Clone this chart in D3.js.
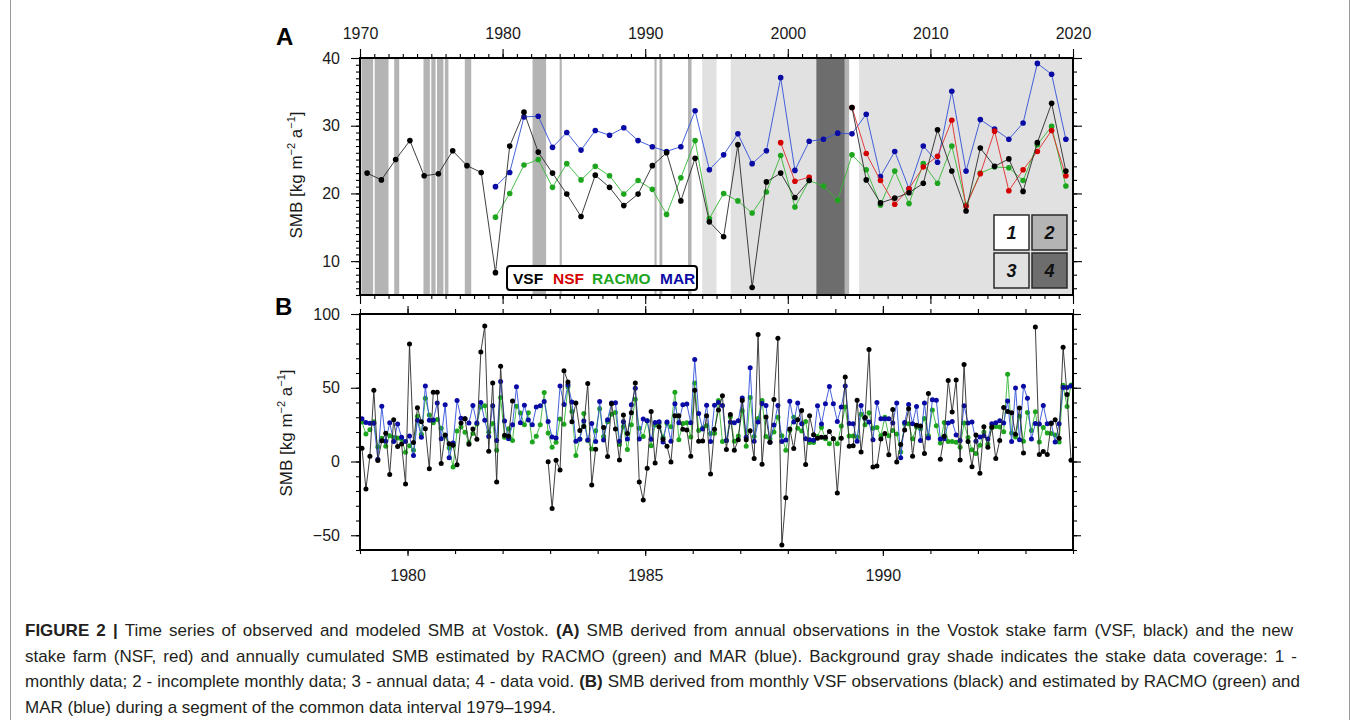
<!DOCTYPE html>
<html>
<head>
<meta charset="utf-8">
<script src="https://cdn.jsdelivr.net/npm/d3@7"></script>
<style>
body { margin: 0; background: #fff; }
svg { display: block; font-family: "Liberation Sans", Arial, Helvetica, sans-serif; }
</style>
</head>
<body>
<div id="chart"></div>
<script>
//data - panel A (annual, plotted at mid-year)
const yearsA = d3.range(1970, 2020);
const vsfAnnual = [23.0, 22.0, 25.0, 27.8, 22.6, 22.9, 26.3, 24.1, 23.1, 8.3,
    27.0, 32.0, 26.1, 23.0, 19.9, 16.6, 22.7, 20.9, 18.2, 19.9,
    24.1, 26.0, 18.9, 25.2, 15.8, 13.6, 27.2, 6.1, 21.7, 23.0,
    19.4, 21.9, null, null, 32.7, 22.0, 18.6, 19.3, 20.1, 21.5,
    29.4, 23.3, 17.4, 26.7, 24.0, 25.1, 20.3, 27.5, 33.3, 23.3];
const nsfYears = d3.range(1999, 2020);
const nsfAnnual = [27.5, 21.8, 22.4, null, null, 32.7, 25.9, 21.9, 18.4, 20.7,
    23.9, 25.5, 30.8, 18.1, 22.9, 29.2, 20.4, 23.5, 26.2, 29.3, 22.6];
const modelYears = d3.range(1979, 2020);
const racmoAnnual = [16.5, 20.0, 24.2, 25.0, 20.9, 24.4, 22.0, 24.0, 22.6, 19.9,
    21.9, 20.6, 16.9, 22.3, 27.8, 16.3, 20.0, 18.9, 17.1, 20.2,
    25.6, 18.0, 21.9, 21.1, 19.0, 25.7, 23.5, 18.3, 23.3, 18.5,
    24.4, 21.5, 27.0, 18.3, 23.0, 23.9, 23.8, 21.9, 27.2, 29.9, 21.1];
const marAnnual = [21.0, 23.1, 31.3, 31.4, 26.8, 29.0, 26.4, 29.3, 28.6, 29.7,
    27.8, 26.9, 26.2, 26.9, 32.2, 23.5, 25.7, 28.8, 24.4, 26.3,
    37.1, 23.4, 27.7, 28.0, 28.9, 28.8, 31.7, 22.5, 26.2, 20.7,
    27.0, 24.6, 35.1, 23.3, 30.9, 29.5, 28.0, 30.4, 39.2, 37.6, 28.0];

// background shade: [start, end, coverage type]
const shadeBands = [
    [1970.1, 1970.92, 2], [1971.03, 1972.0, 2], [1972.4, 1972.75, 2],
    [1974.45, 1974.9, 2], [1975.0, 1975.3, 2], [1975.4, 1975.85, 2], [1975.95, 1976.2, 2],
    [1977.35, 1977.8, 2], [1982.1, 1983.05, 2], [1984.0, 1984.15, 2],
    [1990.65, 1990.8, 2], [1991.0, 1991.2, 2], [1993.0, 1993.25, 2],
    [1994.0, 1995.0, 3], [1996.0, 2002.0, 3], [2002.0, 2004.0, 4],
    [2004.0, 2004.3, 2], [2005.0, 2020.0, 3]
];
const shadeColors = { 1: '#ffffff', 2: '#b4b4b4', 3: '#e1e1e1', 4: '#6d6d6d' };

//data - panel B (monthly 1979-1993)
const vsfMonthly = [
    9, -18.7, 3.6, 48.3, 0.7, 14, 19.1, -8.8, 28.3, 10.1, 11.9, -15.3,
    79.6, 12.8, 36.4, 27, 22.2, -4.9, 47, 47, -1.3, 18, 12.1, 11,
    -2.2, 26.1, 29, 11.7, 22, 15.1, 74.2, 91.9, 7, 53.3, -13.9, 64.5,
    17.8, 17.1, 41.1, null, null, null, null, null, null, null, null, -0.2,
    -31.9, 0.9, -5.8, 61.6, 53.9, 27, 39.6, 21.1, 23.8, 52.8, -16, 8.3,
    null, 23.1, 3.4, 39.1, 22, 1.1, 31.5, 18.9, 33, 53.3, -13.9, -26.1,
    -4.5, 33.9, -1.1, 23.6, 15.1, 10.3, -0.4, 31, 31, 21.8, 21.3, 3.6,
    48.3, 13.7, 13.9, 31, -8.5, 21.8, 35, 44.5, 8.1, 31.9, 7.6, 14.8,
    41.3, 14.8, 20.9, 2, 86.1, -1.8, 30.1, 13, 42, 83.6, -56.6, -24.5,
    22, 8.8, 28.3, 34.6, -2, 31, 18.2, 15.7, 16.4, 16.4, 20.4, 15.5,
    -21.3, 15.7, 57.3, 10.3, 10.6, 41.6, 6.5, 29.9, 76, -3.8, -3.1, 15.3,
    18.9, 4.5, 35.3, -0.4, 11.5, 21.3, 35.7, 3.6, 24.5, 24, 5.4, 46.1,
    null, null, 1.6, 17.1, 55, 33.5, 55.3, 1.1, 65.8, 13.5, -3.6, 18,
    -7.9, 23.6, 9.7, 23.4, 2, 14.2, 36.6, 33.9, 33, 18.4, 36.2, 5.8,
    null, null, 91.2, 4.7, 6.7, 4.7, 25.8, 28.3, 15.7, 77.5, 45.4, 0.9
];
const marMonthly = [
    29, 26.5, 26, 26, 1.6, 37.5, 13.7, 26.3, 13.5, 25.4, 16.4, 13.5,
    17.3, 4, 27.9, 16.4, 51.2, 27.9, 28.1, 39.6, 15.5, 38.4, 2.5, 12.6,
    41.3, 29.4, 29, 26.1, 38, 26.1, 40, 27.9, 16.9, 37.8, 14.2, 54.2,
    27.4, 15.5, 24.9, 50.6, 26.3, 38.2, 28.1, 24.9, 36.9, 37.8, 40.7, 27.2,
    16.6, 16, 51.2, 38.7, 52.1, 40.4, 13.7, 15.1, 27.4, 14.6, 25.8, 13.5,
    40.7, 14.6, 28.3, 39.6, 39.8, 13.7, 27, 15.3, 38.4, 49.7, 15.3, 28.8,
    27.6, 15.1, 26.5, 27, 13.3, 26.7, 13.7, 39.1, 26.3, 38.4, 38.9, 26.3,
    69.2, 32.6, 22, 38.2, 13.5, 38.2, 40, 38, 14.2, 26.7, 26.3, 27.6,
    43.1, 16.4, 63.6, 13.7, 26.7, 39.3, 38, 13, 24.7, 38, 13.5, 14.6,
    40.9, 26.7, 39.6, 25.6, 15.5, 14.8, 14.4, 37.8, 25.4, 39.1, 50.8, 39.1,
    27.2, 36.9, 51.2, 25.8, 25.6, 13.7, 38, 29.4, 26.7, 14.8, 40, 29,
    29, 29, 26.1, 39.6, 2.5, 26.5, 38.7, 25.6, 37.3, 14.2, 39.6, 16,
    41.8, 41.6, 15.3, 15.5, 26.1, 27.2, 18, 14.2, 37.8, 26.1, 26.7, 13.7,
    16.6, 17.5, 15.3, 25.6, 26.3, 27.6, 26.1, 41.1, 13.5, 49.9, 14.8, 51,
    42.9, 15.3, 25.8, 25.4, 38, 25.6, 26.1, 13.3, 25.6, 50.1, 50.1, 51.2
];
const racmoMonthly = [
    26.7, 18.7, 21.6, 27, 9.9, 15.7, 10.3, 17.5, 16.2, 16, 15.1, 6.3,
    10.6, 7.6, 30.6, 18.4, 42.9, 31.5, 26.3, 28.5, 22.5, 17.3, 9.4, -3.8,
    20.7, 23.4, 19.8, 12.8, 18.9, 25.4, 36.9, 37.8, 19.8, 25.8, 7.6, 43.4,
    16.4, 22.2, 14.2, 37.5, 32.8, 24.9, 33, 13.3, 17.1, 25, 46.7, 19.3,
    9.7, 13, 28.8, 25.2, 50.6, 33.9, 4, 15.3, 32.6, 14.2, 8.5, 20.9,
    35.7, 16.9, 27, 32.1, 33.3, 11.5, 23.8, 8.1, 24.9, 42.2, 22.5, 16.9,
    27.6, 10.6, 24.7, 26.1, 16.4, 25.8, 23.6, 47, 14.8, 25.8, 26.3, 16.6,
    53.3, 21.1, 22.7, 24.3, 18.9, 19.1, 41.3, 13.5, 14, 30.3, 13.7, 17.3,
    34.4, 10.3, 43.4, 17, 29.2, 41.3, 17, 15.5, 20, 30, 17.5, 7.6,
    21.1, 30, 22.5, 20.7, 27.2, 12.8, 12.8, 17, 23, 15.5, 12.1, 15.5,
    12, 24, 37, 17.3, 17.3, 16.6, 32, 25, 33, 22.5, 23, 17.5,
    30, 17.5, 21, 18.7, 6.5, 25.6, 25.6, 15.5, 23.4, 22.2, 29.2, 17.5,
    35, 24.3, 12.6, 26.5, 13.5, 13.5, 13, 9.7, 26.1, 16.2, 7.9, 5.4,
    11, 20, 11.7, 22.9, 23.8, 23.4, 20.2, 59.1, 19.3, 16.6, 30.6, 13.7,
    33.3, 21.1, 33.7, 13.3, 23.1, 19.3, 18.9, 18, 13.3, 51.7, 37.3, 51.9
];

const captionLines = [
    [['FIGURE 2 | ', true], ['Time series of observed and modeled SMB at Vostok. ', false], ['(A)', true],
     [' SMB derived from annual observations in the Vostok stake farm (VSF, black) and the new', false]],
    [['stake farm (NSF, red) and annually cumulated SMB estimated by RACMO (green) and MAR (blue). Background gray shade indicates the stake data coverage: 1 -', false]],
    [['monthly data; 2 - incomplete monthly data; 3 - annual data; 4 - data void. ', false], ['(B)', true],
     [' SMB derived from monthly VSF observations (black) and estimated by RACMO (green) and', false]],
    [['MAR (blue) during a segment of the common data interval 1979\u20131994.', false]]
];
// right edge of each justified caption line (null = ragged)
const captionEnds = [1293, 1297, 1300, null];

//series colours
const colors = {
    vsf: { pt: '#000000', ln: '#2a2a2a' },
    nsf: { pt: '#d40000', ln: '#e02a2a' },
    racmo: { pt: '#1ea51e', ln: '#35b835' },
    mar: { pt: '#0a0aa5', ln: '#3050d8' }
};

//utilities
const toSeries = (times, values) => times.map((t, i) => ({ t: t, v: values[i] }));
const monthTimes = d3.range(vsfMonthly.length).map(i => 1979 + (i + 0.5) / 12);

const svg = d3.select('#chart')
    .append('svg')
    .attr('width', 1355)
    .attr('height', 720);

svg.append('rect').attr('width', 1355).attr('height', 720).attr('fill', '#fff');

// figure border
svg.append('line').attr('x1', 10.5).attr('x2', 10.5).attr('y1', 0).attr('y2', 720)
    .attr('stroke', '#9a9a9a').attr('stroke-width', 1);
svg.append('line').attr('x1', 1349.5).attr('x2', 1349.5).attr('y1', 0).attr('y2', 720)
    .attr('stroke', '#9a9a9a').attr('stroke-width', 1);

const drawSeries = (g, data, x, y, col, r) => {
    const line = d3.line()
        .defined(d => d.v !== null)
        .x(d => x(d.t))
        .y(d => y(d.v));
    g.append('path')
        .datum(data)
        .attr('d', line)
        .attr('fill', 'none')
        .attr('stroke', col.ln)
        .attr('stroke-width', 0.9);
    g.append('g')
        .selectAll('circle')
        .data(data.filter(d => d.v !== null))
        .enter()
        .append('circle')
        .attr('cx', d => x(d.t))
        .attr('cy', d => y(d.v))
        .attr('r', r)
        .attr('fill', col.pt);
}

const styleAxis = (g) => {
    g.select('.domain').remove();
    g.selectAll('.tick line').attr('stroke', '#000').attr('stroke-width', 1.1);
    g.selectAll('.tick text').attr('fill', '#1a1a1a').style('font-size', '16px')
        .style('font-family', '"Liberation Sans", Arial, sans-serif');
}

const axisPair = (parent, transform, major, minor) => {
    parent.append('g').attr('transform', transform).call(minor).call(styleAxis);
    parent.append('g').attr('transform', transform).call(major).call(styleAxis);
}

// ---------------- panel A ----------------
const xA = d3.scaleLinear().domain([1970, 2020]).range([360, 1073]);
const yA = d3.scaleLinear().domain([5, 40]).range([295, 58]);
const gA = svg.append('g');

gA.append('g')
    .selectAll('rect')
    .data(shadeBands)
    .enter()
    .append('rect')
    .attr('x', d => xA(d[0]))
    .attr('width', d => xA(d[1]) - xA(d[0]))
    .attr('y', yA(40))
    .attr('height', yA(5) - yA(40))
    .attr('fill', d => shadeColors[d[2]]);

const seriesA = gA.append('g');
drawSeries(seriesA, toSeries(modelYears.map(d => d + 0.5), marAnnual), xA, yA, colors.mar, 2.8);
drawSeries(seriesA, toSeries(modelYears.map(d => d + 0.5), racmoAnnual), xA, yA, colors.racmo, 2.8);
drawSeries(seriesA, toSeries(nsfYears.map(d => d + 0.5), nsfAnnual), xA, yA, colors.nsf, 2.8);
drawSeries(seriesA, toSeries(yearsA.map(d => d + 0.5), vsfAnnual), xA, yA, colors.vsf, 2.8);

gA.append('rect')
    .attr('x', 360).attr('y', 58)
    .attr('width', 713).attr('height', 237)
    .attr('fill', 'none').attr('stroke', '#000').attr('stroke-width', 2);

axisPair(gA, 'translate(0,58)',
    d3.axisTop(xA).tickValues(d3.range(1970, 2021, 10)).tickFormat(d3.format('d')).tickSize(9).tickPadding(10),
    d3.axisTop(xA).tickValues(d3.range(1970, 2021, 1)).tickFormat('').tickSize(4));
axisPair(gA, 'translate(0,295)',
    d3.axisBottom(xA).tickValues(d3.range(1970, 2021, 10)).tickFormat('').tickSize(9),
    d3.axisBottom(xA).tickValues(d3.range(1970, 2021, 1)).tickFormat('').tickSize(4));
axisPair(gA, 'translate(360,0)',
    d3.axisLeft(yA).tickValues([10, 20, 30, 40]).tickSize(9).tickPadding(11),
    d3.axisLeft(yA).tickValues(d3.range(5, 41, 1)).tickFormat('').tickSize(4));
axisPair(gA, 'translate(1073,0)',
    d3.axisRight(yA).tickValues([10, 20, 30, 40]).tickFormat('').tickSize(9),
    d3.axisRight(yA).tickValues(d3.range(6, 41, 2)).tickFormat('').tickSize(4));

// legend of series
const legA = gA.append('g');
legA.append('rect')
    .attr('x', 507).attr('y', 266).attr('width', 190).attr('height', 24)
    .attr('rx', 3).attr('fill', '#fff').attr('stroke', '#000').attr('stroke-width', 2);
const legendItems = [['VSF', colors.vsf.pt, 513], ['NSF', colors.nsf.pt, 553],
    ['RACMO', colors.racmo.pt, 592], ['MAR', colors.mar.pt, 660]];
legA.selectAll('text')
    .data(legendItems)
    .enter()
    .append('text')
    .attr('x', d => d[2]).attr('y', 284)
    .style('font-size', '15.5px').style('font-weight', 'bold')
    .attr('fill', d => d[1])
    .text(d => d[0]);

// legend of shade coverage
const shadeLegend = [[1, 994, 215], [2, 1032, 215], [3, 994, 253], [4, 1032, 253]];
const legS = gA.append('g').selectAll('g').data(shadeLegend).enter().append('g');
legS.append('rect')
    .attr('x', d => d[1]).attr('y', d => d[2]).attr('width', 35).attr('height', 35)
    .attr('fill', d => shadeColors[d[0]]).attr('stroke', '#2a2a2a').attr('stroke-width', 1.5);
legS.append('text')
    .attr('x', d => d[1] + 17.5).attr('y', d => d[2] + 24)
    .attr('text-anchor', 'middle')
    .style('font-size', '18px').style('font-weight', 'bold').style('font-style', 'italic')
    .attr('fill', '#111')
    .text(d => d[0]);

// ---------------- panel B ----------------
const xB = d3.scaleLinear().domain([1979, 1994]).range([360, 1073]);
const yB = d3.scaleLinear().domain([-60, 100]).range([550, 314]);
const gB = svg.append('g');

const seriesB = gB.append('g');
drawSeries(seriesB, toSeries(monthTimes, racmoMonthly), xB, yB, colors.racmo, 2.5);
drawSeries(seriesB, toSeries(monthTimes, marMonthly), xB, yB, colors.mar, 2.5);
drawSeries(seriesB, toSeries(monthTimes, vsfMonthly), xB, yB, colors.vsf, 2.5);

gB.append('rect')
    .attr('x', 360).attr('y', 314)
    .attr('width', 713).attr('height', 236)
    .attr('fill', 'none').attr('stroke', '#000').attr('stroke-width', 2);

axisPair(gB, 'translate(0,314)',
    d3.axisTop(xB).tickValues([1980, 1985, 1990]).tickFormat('').tickSize(8),
    d3.axisTop(xB).tickValues(d3.range(1979, 1995, 1)).tickFormat('').tickSize(5));
axisPair(gB, 'translate(0,550)',
    d3.axisBottom(xB).tickValues([1980, 1985, 1990]).tickFormat(d3.format('d')).tickSize(6).tickPadding(14),
    d3.axisBottom(xB).tickValues(d3.range(1979, 1995, 1)).tickFormat('').tickSize(4));
axisPair(gB, 'translate(360,0)',
    d3.axisLeft(yB).tickValues([-50, 0, 50, 100]).tickFormat(d => d < 0 ? '\u2212' + Math.abs(d) : d).tickSize(9).tickPadding(11),
    d3.axisLeft(yB).tickValues(d3.range(-60, 101, 10)).tickFormat('').tickSize(4));
axisPair(gB, 'translate(1073,0)',
    d3.axisRight(yB).tickValues([-50, 0, 50, 100]).tickFormat('').tickSize(8),
    d3.axisRight(yB).tickValues(d3.range(-60, 101, 10)).tickFormat('').tickSize(4));

// panel letters and y titles
svg.append('text').attr('x', 276).attr('y', 45)
    .style('font-size', '24px').style('font-weight', 'bold').text('A');
svg.append('text').attr('x', 275).attr('y', 315)
    .style('font-size', '24px').style('font-weight', 'bold').text('B');

const yTitle = (x, y) => {
    const t = svg.append('text')
        .attr('transform', `translate(${x},${y}) rotate(-90)`)
        .attr('text-anchor', 'middle')
        .style('font-size', '17px')
        .attr('fill', '#1a1a1a');
    t.append('tspan').text('SMB [kg m');
    t.append('tspan').attr('dy', -7).style('font-size', '11px').text('\u22122');
    t.append('tspan').attr('dy', 7).text(' a');
    t.append('tspan').attr('dy', -7).style('font-size', '11px').text('\u22121');
    t.append('tspan').attr('dy', 7).text(']');
}
yTitle(302, 175);
yTitle(292, 433);

// caption (lines 1-3 justified by stretching word spacing)
const caption = svg.append('g');
captionLines.forEach((parts, i) => {
    const t = caption.append('text')
        .attr('x', 25)
        .attr('y', 636 + i * 25.7)
        .style('font-size', '17px')
        .attr('fill', '#231f20');
    parts.forEach(p => {
        t.append('tspan').style('font-weight', p[1] ? 'bold' : 'normal').text(p[0]);
    });
    if (captionEnds[i] !== null) {
        const natural = t.node().getComputedTextLength();
        const gaps = parts.map(p => p[0]).join('').split(' ').length - 1;
        const extra = (captionEnds[i] - 25 - natural) / gaps;
        t.style('word-spacing', extra + 'px');
    }
});
</script>
</body>
</html>
